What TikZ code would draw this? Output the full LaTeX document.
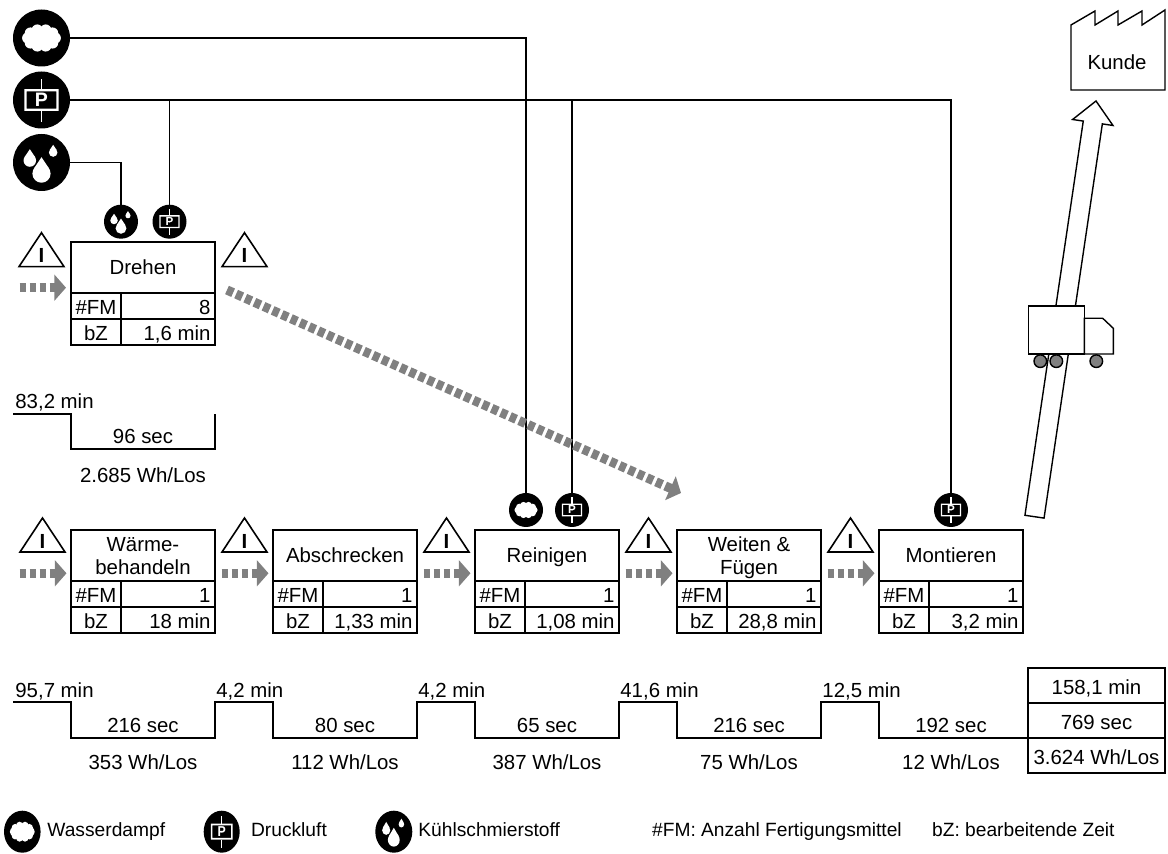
\documentclass[tikz,border=0pt]{standalone}
\usepackage{fontspec}
\setmainfont{Liberation Sans}
\usetikzlibrary{arrows.meta, calc, positioning, shapes.geometric}

\newcommand{\fs}{\fontsize{10.2}{11.5}\selectfont}
\newcommand{\fl}{\fontsize{9.6}{11}\selectfont}
\definecolor{pfeilgrau}{gray}{0.5}

\tikzset{
  linie/.style={line width=0.7pt},
  zeitlinie/.style={line width=0.8pt},
  titel/.style={draw, line width=0.8pt, inner sep=0pt, outer sep=0pt,
    minimum width=72pt, minimum height=25.5pt, align=center, text depth=0pt},
  kopf/.style={draw, line width=0.8pt, inner sep=0pt, outer sep=0pt,
    minimum width=25pt, minimum height=13pt, text height=9pt, text depth=0pt},
  wert/.style={kopf, inner xsep=2.25pt, text width=42.5pt, align=flush right},
  summe/.style={draw, line width=0.8pt, inner sep=0pt, outer sep=0pt,
    minimum width=68.5pt, minimum height=17.5pt, text height=9pt, text depth=0pt},
  zeit/.style={inner sep=0pt},
  legende/.style={inner sep=0pt, font=\fl},
  push/.style={pfeilgrau, line width=4.6pt, dash pattern=on 3.35pt off 1.65pt,
    -{Triangle[length=5.8pt, width=12.8pt]}},
  medium/.style={ellipse, fill=black, inner sep=0pt, outer sep=0pt},
  % Symbole, Einheit = Radius
  pics/ring/.style={code={
    \fill[white, even odd rule] (0,0) circle (0.94) (0,0) circle (0.88);
  }},
  pics/wolke/.style={code={
    \pic {ring};
    \fill[white] (0,0) ellipse (0.5 and 0.3);
    \foreach \a in {0,36,...,324}
      \fill[white] ({0.48*cos(\a)},{0.29*sin(\a)}) circle (0.2);
  }},
  pics/druckluft/.style={code={
    \pic {ring};
    \fill[white, even odd rule] (-0.6,-0.38) rectangle (0.6,0.38)
      (-0.52,-0.3) rectangle (0.52,0.3);
    \fill[white] (-0.03,-0.74) rectangle (0.03,-0.38);
    \fill[white] (-0.03,0.38) rectangle (0.03,0.78);
    \node[white, transform shape, scale=0.1, inner sep=0pt,
      font=\fontsize{3.42}{4}\selectfont\bfseries] (-p) {P};
  }},
  pics/tropfen/.style={code={
    \pic {ring};
    \foreach \x/\y/\r in {0/0.39/0.32, -0.41/-0.07/0.22, 0.41/-0.35/0.15} {
      \fill[white] (\x,\y) circle (\r);
      \fill[white] ({\x-0.832*\r},{\y-0.556*\r}) -- (\x,{\y-1.8*\r})
        -- ({\x+0.832*\r},{\y-0.556*\r}) -- cycle;
    }
  }},
  pics/bestand/.style={code={
    \draw[line width=0.8pt, line join=miter] (-22.5,0) -- (0,-34) -- (22.5,0) -- cycle;
    \node[font=\fs\bfseries, inner sep=0pt] (-i) at (0,-11) {I};
  }}
}

% Prozesskasten: Name, Lage, Titel, #FM, bZ
\newcommand{\prozess}[5]{%
  \node[titel, #2] (#1) {#3};
  \node[kopf, anchor=north west] (#1-fm) at (#1.south west) {\#FM};
  \node[wert, anchor=north east] (#1-fmw) at (#1.south east) {#4\hspace*{2.25pt}};
  \node[kopf, anchor=north west] (#1-bz) at (#1-fm.south west) {bZ};
  \node[wert, anchor=north east] (#1-bzw) at (#1-fmw.south east) {#5\hspace*{2.25pt}};
}

% Medium: Name, Lage, x-Radius, y-Radius, Symbol
\newcommand{\medium}[5]{%
  \node[medium, minimum width=#3pt, minimum height=#4pt] (#1) at (#2) {};
  \pic[xscale=#3, yscale=#4] (#1-g) at (#1) {#5};
}

\begin{document}
\begin{tikzpicture}[x=0.5pt, y=-0.5pt, font=\fs]
    \useasboundingbox (0,0) rectangle (1168,854);

    % Prozesse
    \prozess{drehen}{at={(143,267.5)}}{Drehen}{8}{1,6 min}
    \prozess{waerme}{at={(143,555.5)}}{Wärme-\\behandeln}{1}{18 min}
    \prozess{abschrecken}{right=29pt of waerme}{Abschrecken}{1}{1,33 min}
    \prozess{reinigen}{right=29pt of abschrecken}{Reinigen}{1}{1,08 min}
    \prozess{weiten}{right=29pt of reinigen}{Weiten \&\\Fügen}{1}{28,8 min}
    \prozess{montieren}{right=29pt of weiten}{Montieren}{1}{3,2 min}

    % Versorgung
    \medium{dampf}{41.5,38}{28.5}{28.5}{wolke}
    \medium{druck}{41.5,100}{28.5}{28.5}{druckluft}
    \medium{kuehl}{41.5,162.5}{28.5}{28.5}{tropfen}
    \medium{drehen-kuehl}{121,221.7}{17}{17}{tropfen}
    \medium{drehen-druck}{169.5,221.7}{17}{17}{druckluft}
    \medium{reinigen-dampf}{526,510}{17}{17}{wolke}
    \medium{reinigen-druck}{572,510}{17}{17}{druckluft}
    \medium{montieren-druck}{951,510}{17}{17}{druckluft}

    \draw[linie] (dampf.east) -| (reinigen-dampf.north);
    \draw[linie] (druck.east) -| (montieren-druck.north);
    \draw[linie] (druck.east -| drehen-druck.north) -- (drehen-druck.north);
    \draw[linie] (druck.east -| reinigen-druck.north) -- (reinigen-druck.north);
    \draw[linie] (kuehl.east) -| (drehen-kuehl.north);

    % Bestaende und Materialfluss
    \pic (b-drehen) at ([shift={(-29.5,24.7)}]drehen.north west) {bestand};
    \pic (b-nach) at ([shift={(29.5,24.7)}]drehen.north east) {bestand};
    \draw[push] ([shift={(-51.5,45.7)}]drehen.north west)
        -- ([shift={(-5,45.7)}]drehen.north west);
    \draw[push] ([shift={(12,48)}]drehen.north east)
        -- ([shift={(4,-37)}]weiten.north west);
    \foreach \p in {waerme, abschrecken, reinigen, weiten, montieren} {
        \pic (b-\p) at ([shift={(-28.5,22)}]\p.north west) {bestand};
        \draw[push] ([shift={(-51.5,43.3)}]\p.north west)
            -- ([shift={(-4.5,43.3)}]\p.north west);
    }

    % Zeitlinie Drehen
    \draw[zeitlinie] (13,414) -- (71,414) -- (71,449) -- (215,449) -- (215,414);
    \node[zeit, anchor=base west] (drehen-lz) at (15,408.3) {83,2 min};
    \node[zeit, anchor=base] (drehen-pz) at (143,444) {96 sec};
    \node[zeit, anchor=base] (drehen-en) at (143,483) {2.685 Wh/Los};

    % Summen
    \node[summe] (summe-min) at (1096.5,685.5) {158,1 min};
    \node[summe, below=0pt of summe-min] (summe-sec) {769 sec};
    \node[summe, below=0pt of summe-sec] (summe-wh) {3.624 Wh/Los};

    % Zeitlinie Hauptkette
    \draw[zeitlinie] (13,702)
        \foreach \l in {71,273,475,677} {
            -- (\l,702) -- (\l,738) -- (\l+144,738) -- (\l+144,702)}
        -- (879,702) -- (879,738) -- (summe-sec.south west);
    \foreach \p/\cx/\gx/\zt/\st/\wh in {
        waerme/143/15/{95,7}/216/353,
        abschrecken/345/216/{4,2}/80/112,
        reinigen/547/418/{4,2}/65/387,
        weiten/749/620/{41,6}/216/75,
        montieren/951/822/{12,5}/192/12} {
        \node[zeit, anchor=base west] (\p-lz) at (\gx,698) {\zt~min};
        \node[zeit, anchor=base] (\p-pz) at (\cx,733) {\st~sec};
        \node[zeit, anchor=base] (\p-en) at (\cx,770) {\wh~Wh/Los};
    }

    % Kunde
    \draw[linie, line join=miter] (1071,90) -- (1071,25) -- (1095,11) -- (1095,25)
        -- (1118,11) -- (1118,25) -- (1142,11) -- (1142,25) -- (1165,10)
        -- (1165,90) -- cycle;
    \node (kunde) at (1117,62) {Kunde};

    % Lieferung mit LKW
    \draw[linie, fill=white] (1024.95,515.3) -- (1044.05,518.1) -- (1102.35,123.9)
        -- (1112.98,125.5) -- (1096,101) -- (1072.6,119.5) -- (1083.25,121.1) -- cycle;
    \draw[linie, fill=white] (1028.3,306) rectangle (1084.3,354);
    \draw[linie, fill=white, line join=miter] (1084.3,354) -- (1084.3,318.3)
        -- (1102.7,318.3) -- (1113.3,328.3) -- (1113.3,354) -- cycle;
    \foreach \x in {1040.3,1056.3,1096.3}
        \draw[linie, fill=pfeilgrau] (\x,361.2) circle (3.15pt);

    % Legende
    \medium{leg-dampf}{22.3,831.7}{18.3}{21}{wolke}
    \medium{leg-druck}{221.7,831.7}{18}{21}{druckluft}
    \medium{leg-kuehl}{393.8,831.7}{18.5}{21}{tropfen}
    \node[legende, anchor=base west] (leg-dampf-t) at (47,837) {Wasserdampf};
    \node[legende, anchor=base west] (leg-druck-t) at (250.7,837) {Druckluft};
    \node[legende, anchor=base west] (leg-kuehl-t) at (418,837) {Kühlschmierstoff};
    \node[legende, anchor=base west] (leg-fm) at (651.7,837) {\#FM: Anzahl Fertigungsmittel};
    \node[legende, anchor=base west] (leg-bz) at (931.7,837) {bZ: bearbeitende Zeit};

\end{tikzpicture}
\end{document}
